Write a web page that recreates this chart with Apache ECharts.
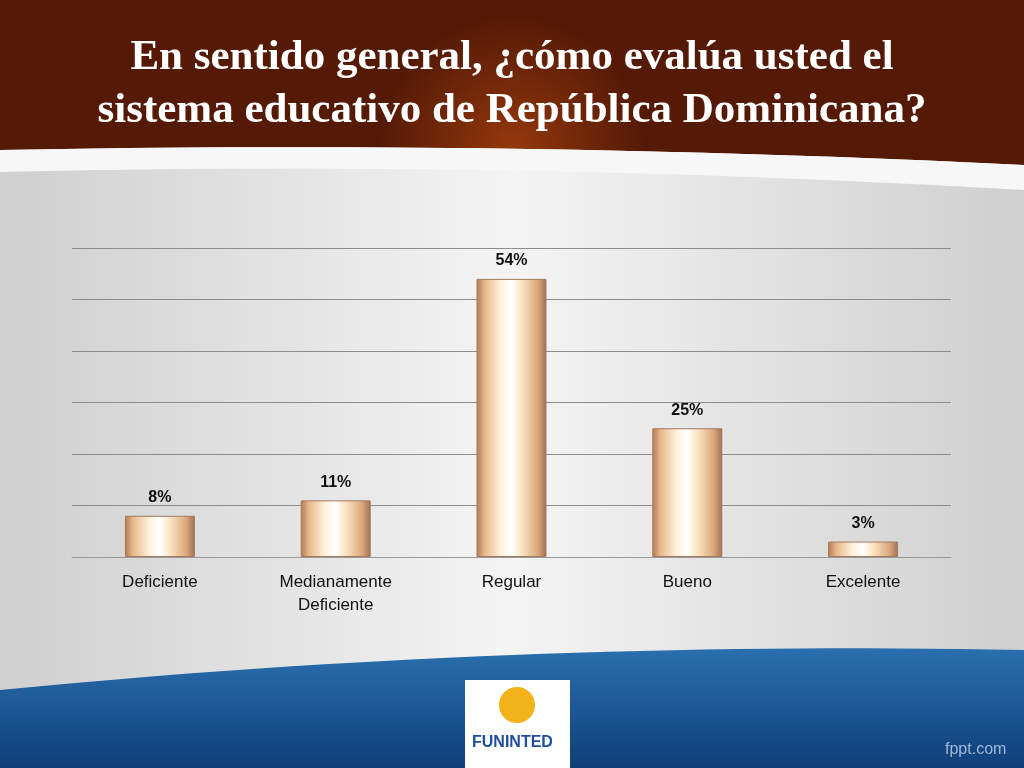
<!DOCTYPE html>
<html>
<head>
<meta charset="utf-8">
<script src="https://cdn.jsdelivr.net/npm/echarts@6/dist/echarts.min.js"></script>
<style>html,body{margin:0;padding:0;}#main{width:1024px;height:768px;}</style>
</head>
<body>
<div id="main"></div>
<script>
var categories = ['Deficiente', 'Medianamente\nDeficiente', 'Regular', 'Bueno', 'Excelente'];
var values = [8, 11, 54, 25, 3];
var titleLines = 'En sentido general, ¿cómo evalúa usted el\nsistema educativo de República Dominicana?';

// quadratic curve points for decorative background shapes
function curve(y0, yc, y1) {
    var pts = [];
    for (var i = 0; i <= 32; i++) {
        var t = i / 32;
        pts.push([1024 * t, (1 - t) * (1 - t) * y0 + 2 * t * (1 - t) * yc + t * t * y1]);
    }
    return pts;
}
var headerPts = [[0, 0], [1024, 0]].concat(curve(150, 140, 165).reverse());
var swooshPts = curve(150, 140, 165).concat(curve(172, 160, 190).reverse());
var footerPts = curve(690, 640, 650).concat([[1024, 768], [0, 768]]);

var chart = echarts.init(document.getElementById('main'));
var barColor = new echarts.graphic.LinearGradient(0, 0, 1, 0, [
    {offset: 0, color: '#b07a55'},
    {offset: 0.12, color: '#e8b98a'},
    {offset: 0.35, color: '#fff3dc'},
    {offset: 0.5, color: '#ffffff'},
    {offset: 0.65, color: '#fbe3bf'},
    {offset: 0.88, color: '#dca57a'},
    {offset: 1, color: '#9c6f55'}
]);

var option = {
    backgroundColor: '#e4e4e4',
    graphic: [
        {type: 'rect', z: -10, shape: {x: 0, y: 0, width: 1024, height: 768},
         style: {fill: new echarts.graphic.LinearGradient(0, 0, 1, 0, [
             {offset: 0, color: '#cfcfcf'}, {offset: 0.5, color: '#f4f4f4'}, {offset: 1, color: '#cfcfcf'}])}},
        {type: 'polygon', z: -9, shape: {points: headerPts},
         style: {fill: new echarts.graphic.RadialGradient(0.5, 0.9, 0.8, [
             {offset: 0, color: '#94380c'}, {offset: 1, color: '#551a06'}])}},
        {type: 'polygon', z: -8, shape: {points: swooshPts}, style: {fill: '#f7f7f7'}},
        {type: 'polygon', z: -9, shape: {points: footerPts},
         style: {fill: new echarts.graphic.LinearGradient(0, 0, 0, 1, [
             {offset: 0, color: '#2a6fae'}, {offset: 1, color: '#0f3f7a'}])}},
        {type: 'rect', z: 5, shape: {x: 465, y: 680, width: 105, height: 88}, style: {fill: '#ffffff'}},
        {type: 'circle', z: 6, shape: {cx: 517, cy: 705, r: 18}, style: {fill: '#f2b21a'}},
        {type: 'text', z: 6, left: 472, top: 735, style: {text: 'FUNINTED', fill: '#1f4e9c', font: 'bold 16px Liberation Sans'}},
        {type: 'text', z: 6, left: 945, top: 742, style: {text: 'fppt.com', fill: '#9fb8d6', font: '16px Liberation Sans'}}
    ],
    title: {
        text: titleLines, left: 'center', top: 26,
        textStyle: {color: '#ffffff', fontFamily: 'Liberation Serif', fontWeight: 'bold', fontSize: 43, lineHeight: 53}
    },
    grid: {left: 72, right: 73, top: 248, bottom: 211},
    xAxis: {
        type: 'category', data: categories,
        axisLine: {lineStyle: {color: '#999999'}}, axisTick: {show: false},
        axisLabel: {color: '#111', fontFamily: 'Liberation Sans', fontSize: 17, margin: 14, lineHeight: 23}
    },
    yAxis: {
        type: 'value', min: 0, max: 60, interval: 10,
        axisLabel: {show: false}, axisLine: {show: false}, axisTick: {show: false},
        splitLine: {lineStyle: {color: '#8c8c8c'}}
    },
    series: [{
        type: 'bar', data: values, barWidth: 70,
        itemStyle: {color: barColor, borderColor: '#a27a62', borderWidth: 1},
        label: {show: true, position: 'top', distance: 10, formatter: '{c}%', color: '#111',
                fontFamily: 'Liberation Sans', fontWeight: 'bold', fontSize: 16}
    }]
};
chart.setOption(option);
</script>
</body>
</html>
